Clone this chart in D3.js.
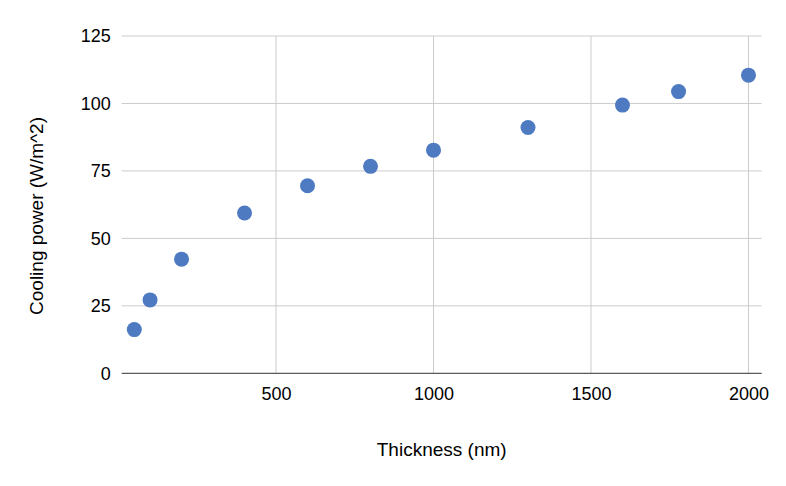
<!DOCTYPE html>
<html>
<head>
<meta charset="utf-8">
<script src="https://cdn.jsdelivr.net/npm/d3@7"></script>
<style>
  html, body { margin: 0; padding: 0; background: #fff; }
  svg { display: block; font-family: "Liberation Sans", Arial, sans-serif; }
</style>
</head>
<body>
<svg id="chart" width="786" height="486"></svg>
<script>
const thickness = [50, 100, 200, 400, 600, 800, 1000, 1300, 1600, 1778, 2000];
const coolingPower = [16.2, 27.2, 42.3, 59.4, 69.5, 76.7, 82.7, 91.1, 99.4, 104.4, 110.5];
const xTicks = [500, 1000, 1500, 2000];
const yTicks = [0, 25, 50, 75, 100, 125];
const xTitle = "Thickness (nm)";
const yTitle = "Cooling power (W/m^2)";

(function () {
const svg = d3.select("#chart");
const pLeft = 121.7, pRight = 761.7, pTop = 36, pBottom = 373.3;

const x = d3.scaleLinear().domain([10, 2042]).range([pLeft, pRight]);
const y = d3.scaleLinear().domain([0, 125]).range([pBottom, pTop]);

// horizontal gridlines
svg.append("g")
  .selectAll("line").data(yTicks.filter(d => d !== 0)).join("line")
  .attr("x1", pLeft).attr("x2", pRight)
  .attr("y1", d => y(d)).attr("y2", d => y(d))
  .attr("stroke", "#cccccc").attr("stroke-width", 1);

// vertical gridlines
svg.append("g")
  .selectAll("line").data(xTicks).join("line")
  .attr("x1", d => x(d)).attr("x2", d => x(d))
  .attr("y1", pTop).attr("y2", pBottom)
  .attr("stroke", "#cccccc").attr("stroke-width", 1);

// x axis
const xAxis = svg.append("g")
  .attr("transform", `translate(0,${pBottom})`)
  .call(d3.axisBottom(x).tickValues(xTicks).tickSize(0).tickPadding(14).tickFormat(d3.format("d")));
xAxis.select(".domain").attr("stroke", "#333333").attr("d", `M${pLeft},0H${pRight}`);
xAxis.selectAll("text").attr("font-size", 18).attr("fill", "#000").attr("font-family", "Liberation Sans, Arial, sans-serif");

// y axis
const yAxis = svg.append("g")
  .attr("transform", `translate(${pLeft},0)`)
  .call(d3.axisLeft(y).tickValues(yTicks).tickSize(0).tickPadding(11).tickFormat(d3.format("d")));
yAxis.select(".domain").remove();
yAxis.selectAll("text").attr("font-size", 18).attr("fill", "#000").attr("font-family", "Liberation Sans, Arial, sans-serif");

// points
svg.append("g")
  .selectAll("circle").data(thickness.map((t, i) => [t, coolingPower[i]])).join("circle")
  .attr("cx", d => x(d[0])).attr("cy", d => y(d[1]))
  .attr("r", 7.5).attr("fill", "#4e7ac2");

// titles
svg.append("text")
  .attr("x", (pLeft + pRight) / 2).attr("y", 456)
  .attr("text-anchor", "middle").attr("font-size", 19).attr("fill", "#000")
  .text(xTitle);

svg.append("text")
  .attr("transform", `translate(43,216) rotate(-90)`)
  .attr("text-anchor", "middle").attr("font-size", 19).attr("fill", "#000")
  .text(yTitle);
})();
</script>
</body>
</html>
